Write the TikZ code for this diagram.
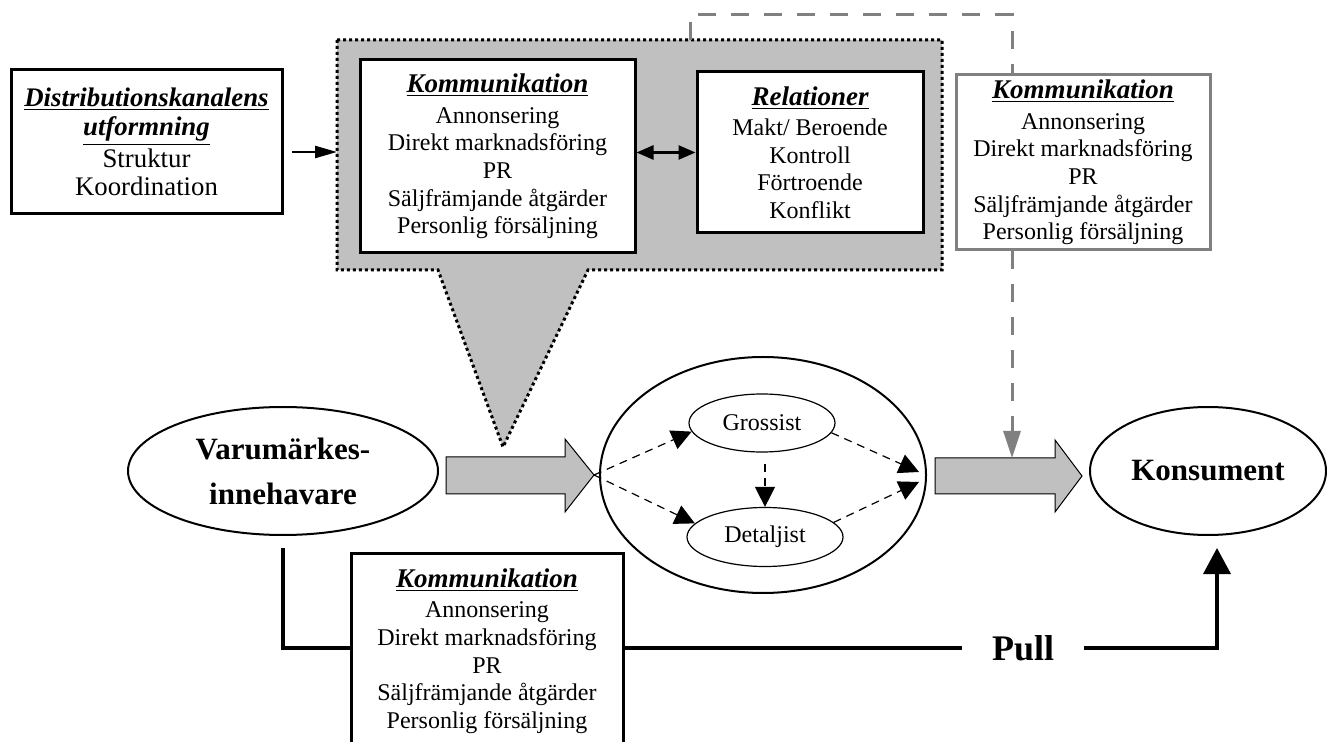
\documentclass[tikz,border=0pt]{standalone}
\usepackage{fontspec}
\setmainfont{Liberation Serif}
\usetikzlibrary{arrows.meta,calc,shapes.geometric}

\definecolor{ljusgra}{RGB}{192,192,192}
\definecolor{mellangra}{RGB}{128,128,128}

\newcommand{\rubrik}[1]{\textbf{\textit{\underline{#1}}}}
\newcommand{\brodtext}{\fontsize{12}{13.8}\selectfont}
\newcommand{\rubriktext}{\fontsize{13.5}{14.5}\selectfont}
\newcommand{\kommtext}{{\rubriktext\rubrik{Kommunikation}}\\[1.5pt] Annonsering\\ Direkt marknadsföring\\ PR\\ Säljfrämjande åtgärder\\ Personlig försäljning}

\tikzset{
  ruta/.style={draw, line width=1.5pt, fill=white, align=center, inner sep=0pt, font=\brodtext},
  aktor/.style={draw, ellipse, line width=1pt, fill=white, align=center, inner sep=0pt, font=\fontsize{15.5}{22.5}\selectfont\bfseries},
  led/.style={draw, ellipse, line width=0.6pt, fill=white, inner sep=0pt, font=\brodtext},
  flode/.style={draw, line width=0.5pt, fill=ljusgra},
  streck/.style={dash pattern=on 4pt off 3pt, line width=0.6pt, -{Triangle[length=10pt,width=10pt]}},
  gralank/.style={mellangra, line width=1.5pt, dash pattern=on 9pt off 7.5pt},
  pull/.style={line width=1.8pt},
}

\begin{document}
\begin{tikzpicture}[x=0.5pt,y=-0.5pt]
\useasboundingbox (0,0) rectangle (1327,742);
\clip (0,0) rectangle (1327,742);

% Grey callout round communication and relations
\draw[fill=ljusgra, line width=1.5pt, dash pattern=on 1.5pt off 1.5pt]
  (337,40) -- (942,40) -- (942,270) -- (588,270) -- (503,447) -- (438,270) -- (337,270) -- cycle;
\coordinate (gtop) at (690,40);
\coordinate (gleft) at (337,152);

% Text boxes
\node[ruta, minimum width=135.5pt, minimum height=72pt, font=\fontsize{13.4}{14}\selectfont] (dist) at (146.5,142)
  {\rubrik{Distributionskanalens}\\[0.5pt] \rubrik{utformning}\\[1pt] Struktur\\ Koordination};
\node[ruta, minimum width=137.5pt, minimum height=96.5pt] (komm) at (497.5,156.5) {\kommtext};
\node[ruta, minimum width=113pt, minimum height=80.5pt] (rel) at (810,152.5)
  {{\rubriktext\rubrik{Relationer}}\\[1.5pt] Makt/ Beroende\\ Kontroll\\ Förtroende\\ Konflikt};
\node[ruta, draw=mellangra, minimum width=127pt, minimum height=87.5pt] (hkomm) at (1083,162.5) {\kommtext};

% Actors and the channel
\node[aktor, minimum width=155pt, minimum height=64pt] (varu) at (283,471) {Varumärkes-\\innehavare};
\node[aktor, minimum width=163pt, minimum height=118pt] (kanal) at (763,475) {};
\node[aktor, minimum width=118pt, minimum height=64pt] (kons) at (1208,471) {Konsument};
\node[led, minimum width=73pt, minimum height=29pt] (gross) at (762,423) {Grossist};
\node[led, minimum width=78pt, minimum height=29.5pt] (detalj) at (765,537) {Detaljist};

% Block arrows
\draw[flode] (446,457) -- (565,457) -- (565,439) -- (594,475) coordinate (pil1) -- (565,512) -- (565,494) -- (446,494) -- cycle;
\draw[flode] (935,458) -- (1055,458) -- (1055,440) -- (1082,476) -- (1055,512) -- (1055,494) -- (935,494) -- cycle;
\coordinate (pil2top) at (1012,458);

% Dashed flows in the channel
\coordinate (ut1) at (919,472);
\coordinate (ut2) at (919,482);
\draw[streck] (pil1) -- (gross.187);
\draw[streck] (pil1) -- (detalj.169);
\draw[streck, shorten <=5.5pt] (detalj.north |- gross.south) -- (detalj.north);
\draw[streck] (gross.-8) -- (ut1);
\draw[streck] (detalj.12) -- (ut2);

% Arrows between the boxes
\draw[line width=1.2pt, -{Triangle[length=11pt,width=6pt]}, shorten <=4pt] (dist.east |- gleft) -- (gleft);
\draw[line width=1.3pt, {Triangle[length=8.5pt,width=7pt]}-{Triangle[length=8.5pt,width=7pt]}] (komm.east |- rel.west) -- (rel.west);

% Grey dashed link to the consumer arrow
\coordinate (dk) at (1012,15);
\draw[gralank] (gtop) |- (dk) -- (dk |- hkomm.north);
\draw[gralank, -{Triangle[length=13.5pt,width=8.5pt]}] (dk |- hkomm.south) -- (pil2top);

% Pull
\node[font=\fontsize{18}{20}\selectfont\bfseries, inner xsep=15pt, inner ysep=0pt] (pull) at (1023,648) {Pull};
\draw[pull, shorten <=6pt] (varu.south) |- (pull.west);
\draw[pull, -{Triangle[length=13pt,width=13.5pt]}, shorten >=6pt] (pull.east) -| ([xshift=4.5pt]kons.south);
\node[ruta, minimum width=136pt, minimum height=98pt] (bkomm) at (487,651) {\kommtext};
\end{tikzpicture}
\end{document}
